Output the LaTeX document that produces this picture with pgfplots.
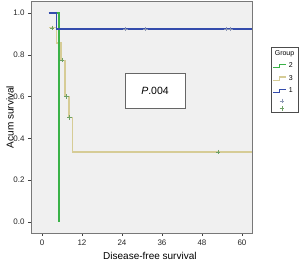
\documentclass[border=0pt]{standalone}
\usepackage{pgfplots}
\pgfplotsset{compat=1.18}
\usepackage{fontspec}
\setmainfont{Liberation Sans}
\definecolor{kmgreen}{RGB}{58,178,72}
\definecolor{kmtan}{RGB}{214,204,150}
\definecolor{kmblue}{RGB}{52,76,172}
\definecolor{cenblue}{RGB}{140,150,180}
\definecolor{centan}{RGB}{110,160,100}
\definecolor{frame}{RGB}{120,120,120}
\pgfplotsset{legstep/.style={legend image code/.code={\draw[##1] (0pt,-1.6pt) -- (6.5pt,-1.6pt) -- (6.5pt,1.6pt) -- (13pt,1.6pt);}}}
\begin{document}
\begin{tikzpicture}
\path[use as bounding box] (0,0) rectangle (300pt,261pt);
\begin{axis}[
  scale only axis, width=221pt, height=232pt,
  at={(31pt,28pt)}, anchor=south west,
  xmin=-3.3, xmax=63, ymin=-0.053, ymax=1.058,
  xtick={0,12,24,36,48,60},
  ytick={0,0.2,0.4,0.6,0.8,1.0},
  yticklabel style={/pgf/number format/.cd, fixed, fixed zerofill, precision=1},
  /pgf/number format/assume math mode=true,
  tick pos=left, tick align=outside, major tick length=3pt,
  tick style={black!75, line width=0.6pt},
  ticklabel style={font=\fontsize{8}{9}\selectfont, text=black!85},
  axis line style={frame, line width=0.8pt},
  axis background/.style={fill=black!6},
  xlabel={Disease-free survival}, ylabel={Acum survival},
  label style={font=\fontsize{10}{12}\selectfont, text=black!85},
  every axis x label/.style={at={(axis description cs:0.538,-0.099)}, anchor=center},
  every axis y label/.style={at={(axis description cs:-0.095,0.5)}, anchor=center, rotate=90},
  legend style={at={(axis description cs:1.086,0.802)}, anchor=north west, draw=black!70, fill=white,
    font=\fontsize{7}{8}\selectfont, inner sep=1.5pt, row sep=2pt, cells={anchor=west}, /tikz/every even column/.append style={column sep=0pt}},
]
% group 3 (tan)
\addplot[const plot, color=kmtan, line width=1.1pt, forget plot] coordinates {
 (2.1,0.929) (4.4,0.857) (5.7,0.775) (6.9,0.60) (8.1,0.50) (9.1,0.335) (63,0.335)};
% group 2 (green)
\addplot[const plot, color=kmgreen, line width=1.3pt, forget plot] coordinates {
 (4.2,1) (5.1,0) };
% group 1 (blue)
\addplot[const plot, color=kmblue, line width=1.4pt, forget plot] coordinates {
 (2,1) (4.4,0.923) (63,0.923)};
% censored
\addplot[only marks, mark=+, mark size=2.2pt, color=cenblue, forget plot] coordinates {
 (25,0.923) (31,0.923) (55.2,0.923) (56.5,0.923)};
\addplot[only marks, mark=+, mark size=2.2pt, color=centan, forget plot] coordinates {
 (3,0.929) (6.0,0.775) (7.3,0.60) (8.3,0.50) (52.8,0.335)};
\node[draw=black!60, fill=white, minimum width=60pt, minimum height=35pt, inner sep=0pt,
  font=\fontsize{10.5}{12}\selectfont] at (axis cs:33.9,0.629) {\itshape P\upshape.004};
% legend
\addlegendimage{legend image code/.code={}}
\addlegendentry{\hspace*{-14pt}Group}
\addlegendimage{legstep, color=kmgreen, line width=1.1pt}
\addlegendentry{2}
\addlegendimage{legstep, color=kmtan, line width=1.1pt}
\addlegendentry{3}
\addlegendimage{legstep, color=kmblue, line width=1.1pt}
\addlegendentry{1}
\addlegendimage{only marks, mark=+, mark size=2.2pt, color=cenblue}
\addlegendentry{}
\addlegendimage{only marks, mark=+, mark size=2.2pt, color=centan}
\addlegendentry{}
\end{axis}
\end{tikzpicture}
\end{document}
